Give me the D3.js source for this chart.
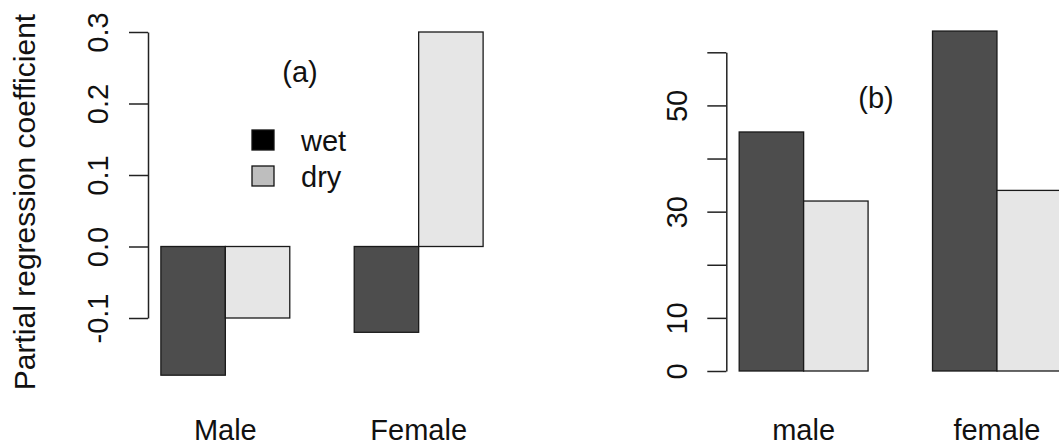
<!DOCTYPE html>
<html>
<head>
<meta charset="utf-8">
<script src="https://cdn.jsdelivr.net/npm/d3@7"></script>
<style>
  body { margin: 0; background: #fff; }
  text { font-family: "Liberation Sans", Arial, sans-serif; fill: #111; }
</style>
</head>
<body>
<div id="chart"></div>
<script>
// panel (a)
var categoriesA = ["Male", "Female"];
var wetA = [-0.18, -0.12];
var dryA = [-0.1, 0.3];
var ticksA = [-0.1, 0.0, 0.1, 0.2, 0.3];

// panel (b)
var categoriesB = ["male", "female"];
var wetB = [45, 64];
var dryB = [32, 34];
var ticksB = [0, 10, 20, 30, 40, 50, 60];
var tickLabelsB = [0, 10, 30, 50];

var seriesNames = ["wet", "dry"];
var barColors = ["#4d4d4d", "#e6e6e6"];
var legendColors = ["#000000", "#bebebe"];

var svg = d3.select("#chart")
  .append("svg")
  .attr("width", 1059)
  .attr("height", 447);

var fontSize = 29;

function panel(opts) {
  // R barplot(beside=TRUE): bars at units 1..6 with one unit gap, xlim padded 4%
  var x = d3.scaleLinear().domain([0.8, 6.2]).range(opts.xRange);
  var y = d3.scaleLinear().domain(opts.yDomain).range(opts.yRange);

  var bars = [];
  opts.categories.forEach(function (c, i) {
    var start = 1 + i * 3;
    bars.push({ x0: start, v: opts.wet[i], s: 0 });
    bars.push({ x0: start + 1, v: opts.dry[i], s: 1 });
  });

  svg.append("g").selectAll("rect")
    .data(bars)
    .enter()
    .append("rect")
    .attr("x", function (d) { return x(d.x0); })
    .attr("width", function (d) { return x(d.x0 + 1) - x(d.x0); })
    .attr("y", function (d) { return Math.min(y(0), y(d.v)); })
    .attr("height", function (d) { return Math.abs(y(d.v) - y(0)); })
    .attr("fill", function (d) { return barColors[d.s]; })
    .attr("stroke", "#1a1a1a")
    .attr("stroke-width", 1.3);

  // y axis
  var axis = svg.append("g")
    .attr("transform", "translate(" + opts.xRange[0] + ",0)")
    .call(d3.axisLeft(y)
      .tickValues(opts.ticks)
      .tickSize(19)
      .tickSizeOuter(0)
      .tickFormat(opts.format));
  axis.select(".domain").attr("stroke", "#222").attr("stroke-width", 1.5);
  axis.selectAll(".tick line").attr("stroke", "#222").attr("stroke-width", 1.5);
  axis.selectAll(".tick text")
    .attr("transform", "rotate(-90)")
    .attr("x", 0)
    .attr("y", opts.labelOffset)
    .attr("dy", 0)
    .attr("text-anchor", "middle")
    .attr("fill", "#111")
    .style("font-family", "'Liberation Sans', Arial, sans-serif")
    .style("font-size", fontSize + "px");

  // category labels
  svg.append("g").selectAll("text")
    .data(opts.categories)
    .enter()
    .append("text")
    .attr("x", function (d, i) { return x(2 + i * 3); })
    .attr("y", 440)
    .attr("text-anchor", "middle")
    .style("font-size", fontSize + "px")
    .text(function (d) { return d; });

  // panel tag
  svg.append("text")
    .attr("x", opts.tag[1])
    .attr("y", opts.tag[2])
    .attr("text-anchor", "middle")
    .style("font-size", fontSize + "px")
    .text(opts.tag[0]);
}

panel({
  categories: categoriesA,
  wet: wetA,
  dry: dryA,
  ticks: ticksA,
  format: function (d) { return d.toFixed(1); },
  xRange: [148, 496],
  yDomain: [-0.1, 0.3],
  yRange: [318, 32],
  labelOffset: -40,
  tag: ["(a)", 300, 82]
});

panel({
  categories: categoriesB,
  wet: wetB,
  dry: dryB,
  ticks: ticksB,
  format: function (d) { return tickLabelsB.indexOf(d) >= 0 ? d : ""; },
  xRange: [726.3, 1074.3],
  yDomain: [0, 60],
  yRange: [371, 52.3],
  labelOffset: -39,
  tag: ["(b)", 876, 108]
});

// y title
svg.append("text")
  .attr("transform", "translate(35,202) rotate(-90)")
  .attr("text-anchor", "middle")
  .style("font-size", "30px")
  .text("Partial regression coefficient");

// legend in panel (a)
var legend = svg.append("g").selectAll("g")
  .data(seriesNames)
  .enter()
  .append("g")
  .attr("transform", function (d, i) { return "translate(252," + (130 + i * 36) + ")"; });
legend.append("rect")
  .attr("width", 22)
  .attr("height", 20)
  .attr("fill", function (d, i) { return legendColors[i]; })
  .attr("stroke", "#111")
  .attr("stroke-width", 1.3);
legend.append("text")
  .attr("x", 49)
  .attr("y", 21)
  .style("font-size", fontSize + "px")
  .text(function (d) { return d; });
</script>
</body>
</html>
